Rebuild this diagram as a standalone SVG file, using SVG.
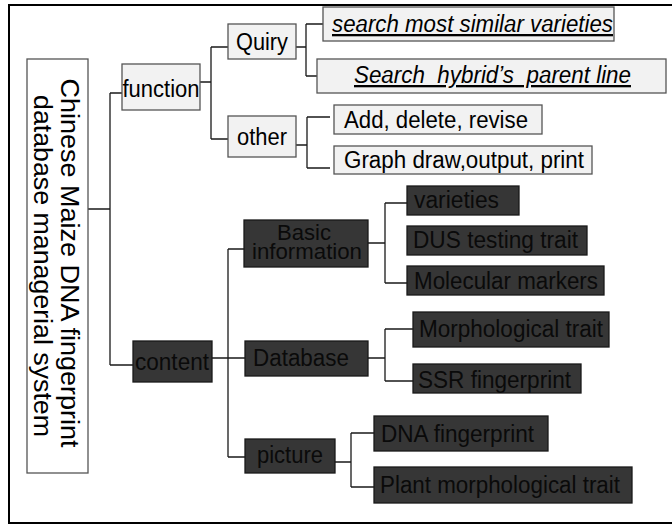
<svg xmlns="http://www.w3.org/2000/svg" width="672" height="525" viewBox="0 0 672 525">
<style>
text{font-family:"Liberation Sans",Arial,sans-serif;font-size:23px;fill:#000}
.light{fill:#f2f2f2;stroke:#555;stroke-width:1.3}
.dark{fill:#363636;stroke:#1a1a1a;stroke-width:1.3}
.dt{fill:#0a0a0a}
.c{text-anchor:middle}
.it{font-style:italic;text-decoration:underline}
#connectors path{fill:none;stroke:#1a1a1a;stroke-width:1.3}
</style>
<rect x="0" y="0" width="672" height="525" fill="#fff"/>
<rect x="9" y="5" width="720" height="518" fill="none" stroke="#000" stroke-width="2"/>
<g id="connectors">
<path d="M88 209H110M110 93V365M110 93H122M110 365H133"/>
<path d="M200 82H211M211 47V139M211 47H228M211 139H228"/>
<path d="M296 47H306M306 24V76M306 24H323M306 76H317"/>
<path d="M296 145H307M307 117V168M307 117H330M307 168H330"/>
<path d="M212 358H245M228 249V457M228 249H244M228 457H245"/>
<path d="M368 243H385M385 203V283M385 203H407M385 283H407"/>
<path d="M368 358H385M385 329V381M385 329H413M385 381H413"/>
<path d="M335 462H351M351 433V487M351 433H374M351 487H374"/>
</g>
<g id="title">
<rect x="27" y="59" width="61" height="414" fill="#fff" stroke="#555" stroke-width="1.3"/>
<text x="61" y="263" class="c" textLength="369" lengthAdjust="spacingAndGlyphs" transform="rotate(90 61 263)" style="font-size:25px">Chinese Maize DNA fingerprint</text>
<text x="34" y="266" class="c" textLength="342" lengthAdjust="spacingAndGlyphs" transform="rotate(90 34 266)" style="font-size:25px">database managerial system</text>
</g>
<g id="function"><rect class="light" x="122" y="64" width="78" height="46"/><text x="161" y="97" class="c" textLength="77" lengthAdjust="spacingAndGlyphs">function</text></g>
<g id="quiry"><rect class="light" x="228" y="24" width="68" height="35"/><text x="262" y="50" class="c" textLength="52" lengthAdjust="spacingAndGlyphs">Quiry</text></g>
<g id="other"><rect class="light" x="228" y="116" width="68" height="41"/><text x="262" y="145" class="c" textLength="50" lengthAdjust="spacingAndGlyphs">other</text></g>
<g id="search-similar"><rect class="light" x="323" y="7" width="291" height="34"/><text x="332" y="32" class="it" textLength="281" lengthAdjust="spacingAndGlyphs">search most similar varieties</text></g>
<g id="search-parent"><rect class="light" x="317" y="59" width="349" height="34"/><text x="354" y="83" class="it" xml:space="preserve" textLength="277" lengthAdjust="spacingAndGlyphs">Search  hybrid’s  parent line</text></g>
<g id="add"><rect class="light" x="334" y="105" width="208" height="29"/><text x="344" y="128" textLength="184" lengthAdjust="spacingAndGlyphs">Add, delete, revise</text></g>
<g id="graph"><rect class="light" x="334" y="146" width="258" height="28"/><text x="344" y="168" textLength="240" lengthAdjust="spacingAndGlyphs">Graph draw,output, print</text></g>
<g id="content"><rect class="dark" x="133" y="341" width="79" height="41"/><text x="172" y="370" class="c dt" textLength="74" lengthAdjust="spacingAndGlyphs">content</text></g>
<g id="basic"><rect class="dark" x="244" y="220" width="124" height="47"/><text x="304" y="240" class="c dt" textLength="54" lengthAdjust="spacingAndGlyphs" style="font-size:22px">Basic</text><text x="307" y="259" class="c dt" textLength="110" lengthAdjust="spacingAndGlyphs" style="font-size:22px">information</text></g>
<g id="database"><rect class="dark" x="245" y="341" width="123" height="35"/><text x="253" y="366" class="dt" textLength="96" lengthAdjust="spacingAndGlyphs">Database</text></g>
<g id="picture"><rect class="dark" x="245" y="439" width="90" height="34"/><text x="290" y="463" class="c dt" textLength="66" lengthAdjust="spacingAndGlyphs">picture</text></g>
<g id="varieties"><rect class="dark" x="407" y="186" width="112" height="29"/><text x="414" y="208" class="dt" textLength="85" lengthAdjust="spacingAndGlyphs">varieties</text></g>
<g id="dus"><rect class="dark" x="407" y="226" width="180" height="29"/><text x="413" y="248" class="dt" textLength="165" lengthAdjust="spacingAndGlyphs">DUS testing trait</text></g>
<g id="molecular"><rect class="dark" x="407" y="266" width="197" height="29"/><text x="414" y="289" class="dt" textLength="184" lengthAdjust="spacingAndGlyphs">Molecular markers</text></g>
<g id="morph"><rect class="dark" x="413" y="312" width="196" height="35"/><text x="419" y="337" class="dt" textLength="184" lengthAdjust="spacingAndGlyphs">Morphological trait</text></g>
<g id="ssr"><rect class="dark" x="413" y="364" width="168" height="29"/><text x="418" y="388" class="dt" textLength="153" lengthAdjust="spacingAndGlyphs">SSR fingerprint</text></g>
<g id="dna"><rect class="dark" x="374" y="416" width="174" height="35"/><text x="381" y="442" class="dt" textLength="153" lengthAdjust="spacingAndGlyphs">DNA fingerprint</text></g>
<g id="plant"><rect class="dark" x="374" y="467" width="258" height="36"/><text x="380" y="493" class="dt" textLength="240" lengthAdjust="spacingAndGlyphs">Plant morphological trait</text></g>
</svg>
